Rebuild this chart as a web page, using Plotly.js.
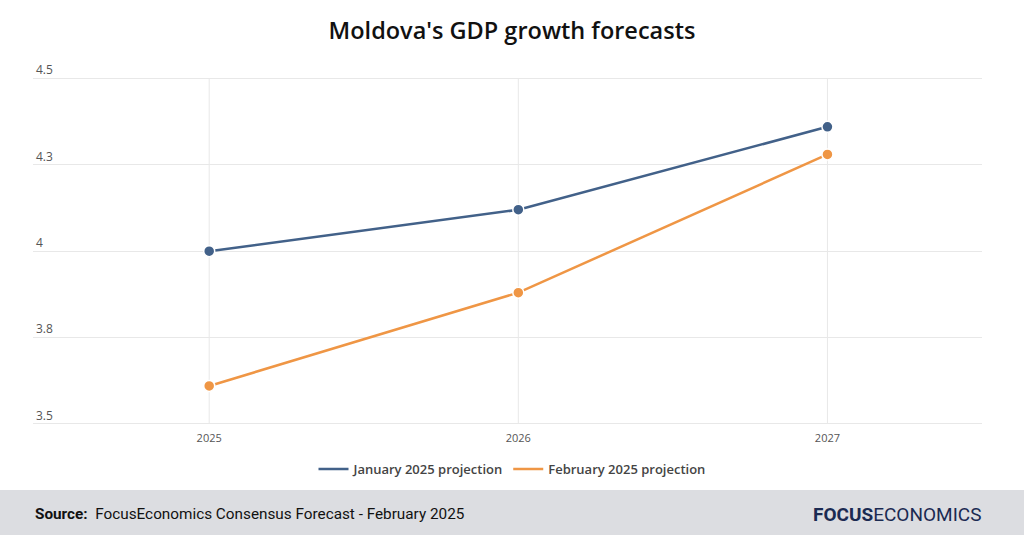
<!DOCTYPE html>
<html>
<head>
<meta charset="utf-8">
<script src="https://cdn.plot.ly/plotly-3.0.1.min.js"></script>
<style>
  html, body { margin: 0; padding: 0; background: #fff; }
  #chart { width: 1024px; height: 535px; }
</style>
</head>
<body>
<div id="chart"></div>
<script>
// Forecast years and GDP growth projections (%)
const years = [2025, 2026, 2027];
const januaryProjection = [4.0, 4.12, 4.36];
const februaryProjection = [3.61, 3.88, 4.28];

const yTickVals = [3.5, 3.75, 4.0, 4.25, 4.5];
const yTickText = ["3.5", "3.8", "4", "4.3", "4.5"];

const seriesNames = ["January 2025 projection", "February 2025 projection"];
const blue = "#426189";
const orange = "#ef9645";

// Lines carry the legend entries; markers are drawn on top without legend items
function lineTrace(name, values, color) {
  return {
    type: "scatter", mode: "lines", name: name,
    x: years, y: values,
    line: { color: color, width: 2.5 },
    hoverinfo: "skip"
  };
}
function markerTrace(name, values, color) {
  return {
    type: "scatter", mode: "markers", name: name, showlegend: false,
    x: years, y: values,
    marker: { color: color, size: 11, line: { color: "#ffffff", width: 1.5 } },
    hoverinfo: "x+y+name"
  };
}

const data = [
  lineTrace(seriesNames[0], januaryProjection, blue),
  lineTrace(seriesNames[1], februaryProjection, orange),
  markerTrace(seriesNames[0], januaryProjection, blue),
  markerTrace(seriesNames[1], februaryProjection, orange)
];

const yMin = 3.497, yMax = 4.562;
const W = 1024, H = 535, L = 33, R = 42, T = 57, B = 110;
const pw = W - L - R, ph = H - T - B;
const px = v => (v - L) / pw;
const py = v => (H - B - v) / ph;

// Vertical grid lines at each forecast year, spanning the value range only
const yearGrid = years.map(yr => ({
  type: "line", xref: "x", yref: "y", layer: "below",
  x0: yr, x1: yr, y0: yTickVals[0], y1: yTickVals[yTickVals.length - 1],
  line: { color: "#e8e8e8", width: 1 }
}));

const layout = {
  width: W,
  height: H,
  margin: { l: L, r: R, t: T, b: B },
  paper_bgcolor: "#ffffff",
  plot_bgcolor: "#ffffff",
  font: { family: "'Open Sans', 'Noto Sans', sans-serif", color: "#555555" },
  title: {
    text: "Moldova's GDP growth forecasts",
    font: { family: "'Open Sans', sans-serif", size: 23.5, weight: 600, color: "#111111" },
    xref: "container", x: 0.5, xanchor: "center",
    yref: "container", y: 1 - 31 / H, yanchor: "middle"
  },
  xaxis: {
    range: [2024.43, 2027.5],
    tickvals: years,
    ticktext: years.map(String),
    showgrid: false,
    zeroline: false,
    showline: false,
    ticks: "",
    ticklabelstandoff: 5,
    tickfont: { size: 11, color: "#555555" },
    fixedrange: true
  },
  yaxis: {
    range: [yMin, yMax],
    tickvals: yTickVals,
    ticktext: yTickText,
    ticklabelposition: "inside top",
    showgrid: true,
    gridcolor: "#e8e8e8",
    gridwidth: 1,
    zeroline: false,
    showline: false,
    ticks: "",
    tickfont: { size: 12, color: "#555555" },
    fixedrange: true
  },
  legend: {
    orientation: "h",
    x: px(512), xanchor: "center",
    y: py(469), yanchor: "middle",
    font: { size: 13, weight: 600, color: "#444444", family: "'Open Sans', sans-serif" },
    itemwidth: 30,
    traceorder: "normal"
  },
  shapes: [
    {
      type: "rect", xref: "paper", yref: "paper", layer: "below",
      x0: px(0), x1: px(W), y0: py(490), y1: py(H + 2),
      fillcolor: "#dcdde1", line: { width: 0 }
    }
  ].concat(yearGrid),
  annotations: [
    {
      xref: "paper", yref: "paper",
      x: px(33), y: py(514), xanchor: "left", yanchor: "middle",
      showarrow: false,
      text: "<b>Source:</b>  FocusEconomics Consensus Forecast - February 2025",
      font: { family: "'Liberation Sans Narrow', 'Roboto', sans-serif", size: 15.3, color: "#111111" }
    },
    {
      xref: "paper", yref: "paper",
      x: px(983), y: py(514), xanchor: "right", yanchor: "middle",
      showarrow: false,
      text: "<b>FOCUS</b>ECONOMICS",
      font: { family: "'Liberation Sans Narrow', 'Roboto', sans-serif", size: 19, color: "#1b2a52" }
    }
  ],
  showlegend: true,
  hovermode: "closest"
};

Plotly.newPlot("chart", data, layout, { displayModeBar: false });
</script>
</body>
</html>
